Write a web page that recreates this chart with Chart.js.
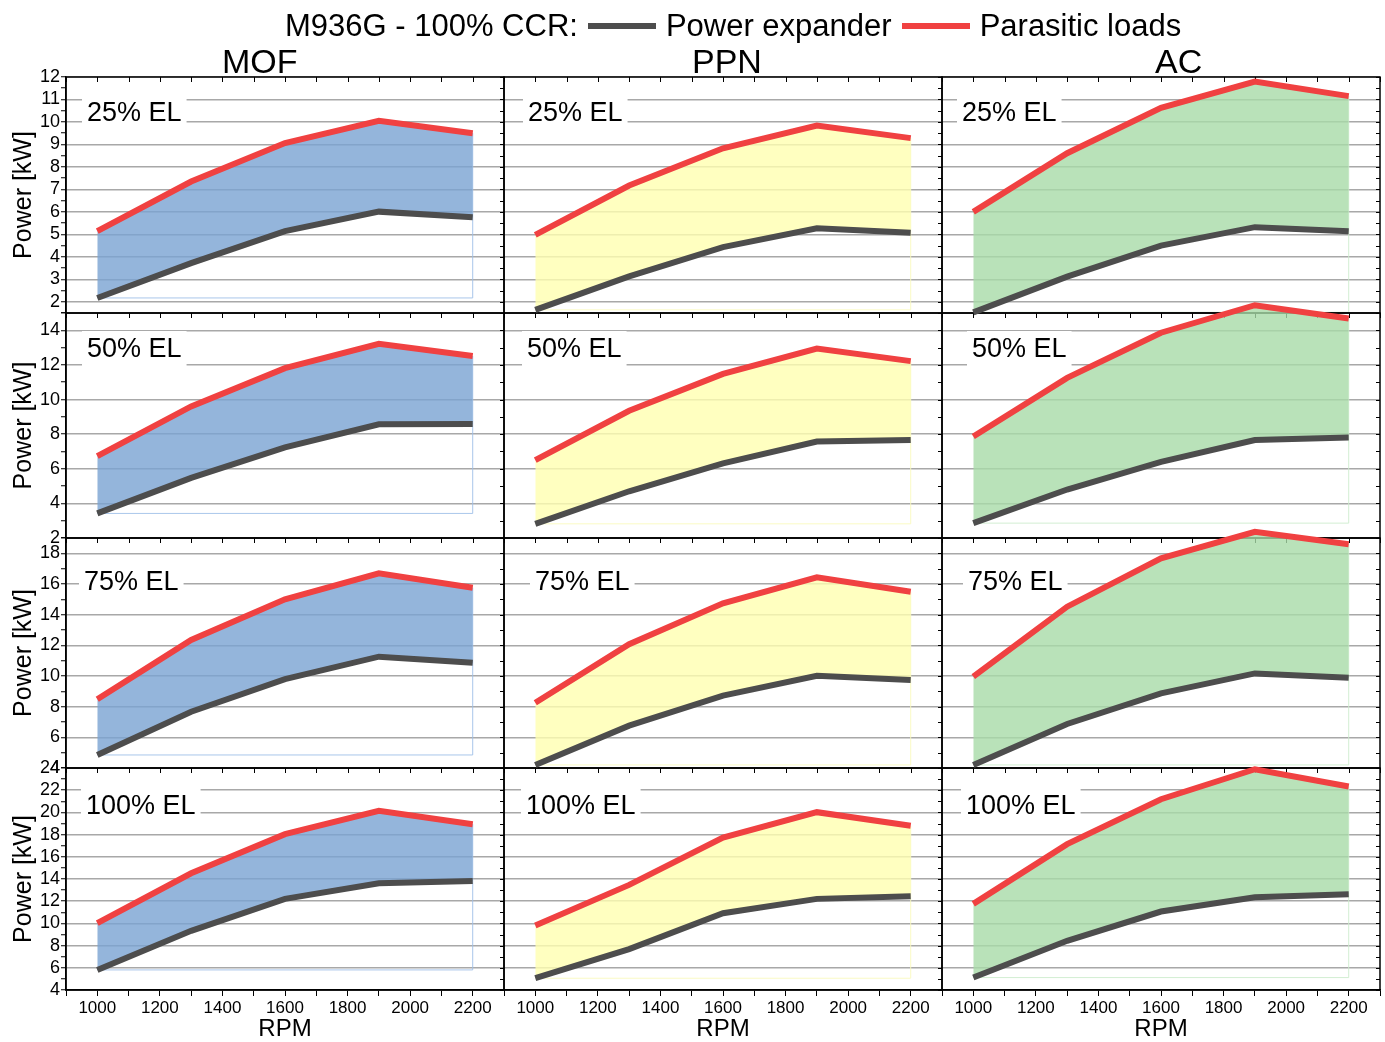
<!DOCTYPE html>
<html>
<head>
<meta charset="utf-8">
<title>M936G - 100% CCR</title>
<script src="https://cdn.jsdelivr.net/npm/chart.js@4.4.0/dist/chart.umd.min.js"></script>
<style>
  body { margin: 0; background: #fff; font-family: "Liberation Sans", Arial, sans-serif; color: #000; }
  #wrap { position: relative; width: 1385px; height: 1042px; overflow: hidden; }
  #plot { position: absolute; left: 0; top: 0; }
  .head { position: absolute; white-space: nowrap; }
  #title { left: 285px; top: 10px; font-size: 31px; line-height: 31px; display: flex; align-items: center; }
  #title .sw { display: inline-block; width: 68px; height: 6px; margin: 0 10px; }
  .col { top: 44px; font-size: 34px; line-height: 34px; }
</style>
</head>
<body>
<div id="wrap">
  <canvas id="plot" width="1385" height="1042"></canvas>
  <div class="head" id="title">
    <span>M936G - 100% CCR:</span>
    <span class="sw" style="background:#4d4d4d"></span>
    <span>Power expander</span>
    <span class="sw" style="background:#f04141"></span>
    <span>Parasitic loads</span>
  </div>
  <div class="head col" style="left:222px">MOF</div>
  <div class="head col" style="left:692px">PPN</div>
  <div class="head col" style="left:1155px">AC</div>
</div>
<script>
//-----------------Data
const rpm = [1000, 1300, 1600, 1900, 2200]
const systems = ['MOF', 'PPN', 'AC']
const loads = ['25% EL', '50% EL', '75% EL', '100% EL']

// power expander [kW], one line per engine load (25, 50, 75, 100 %)
const expander_MOF = [
  [2.17, 3.72, 5.14, 6.01, 5.76],
  [3.42, 5.47, 7.24, 8.57, 8.59],
  [4.85, 7.67, 9.80, 11.26, 10.87],
  [5.81, 9.33, 12.21, 13.62, 13.83]
]
const expander_PPN = [
  [1.64, 3.13, 4.43, 5.27, 5.07],
  [2.82, 4.70, 6.31, 7.57, 7.66],
  [4.20, 6.76, 8.72, 10.02, 9.74],
  [5.06, 7.68, 10.92, 12.21, 12.45]
]
const expander_AC = [
  [1.53, 3.12, 4.50, 5.32, 5.14],
  [2.86, 4.80, 6.40, 7.66, 7.80],
  [4.20, 6.87, 8.87, 10.17, 9.89],
  [5.12, 8.43, 11.07, 12.36, 12.63]
]
// parasitic loads [kW]
const parasitic_MOF = [
  [5.14, 7.35, 9.06, 10.05, 9.50],
  [6.73, 9.60, 11.81, 13.22, 12.51],
  [8.48, 12.35, 15.00, 16.70, 15.76],
  [10.02, 14.52, 18.04, 20.14, 18.94]
]
const parasitic_PPN = [
  [4.98, 7.17, 8.83, 9.84, 9.28],
  [6.50, 9.35, 11.48, 12.95, 12.22],
  [8.26, 12.07, 14.74, 16.43, 15.50],
  [9.81, 13.47, 17.74, 20.02, 18.79]
]
const parasitic_AC = [
  [6.00, 8.61, 10.63, 11.80, 11.15],
  [7.86, 11.25, 13.86, 15.45, 14.68],
  [9.96, 14.52, 17.67, 19.40, 18.59],
  [11.76, 17.14, 21.19, 23.89, 22.33]
]

// axis ranges per row
const yMin = [1.5, 2, 4, 4]
const yMax = [12, 15, 19, 24]
const yMinorStep = [0.5, 1, 1, 1]
const yMajorStep = [1, 2, 2, 2]
const xTickLabels = [1000, 1200, 1400, 1600, 1800, 2000, 2200]

//-----------------Style / layout
const expanderByCol = [expander_MOF, expander_PPN, expander_AC]
const parasiticByCol = [parasitic_MOF, parasitic_PPN, parasitic_AC]
const fillColors = ['rgba(121,163,210,0.8)', 'rgba(255,255,176,0.8)', 'rgba(168,219,168,0.8)']
const edgeColors = ['rgba(160,192,232,0.9)', 'rgba(250,250,190,0.9)', 'rgba(205,236,205,0.9)']
const rowWeights = [236, 225, 230, 222]
// label position inside each panel (x from left, y centre from top)
const labelX = [[21, 24, 20], [21, 23, 30], [18, 31, 26], [20, 22, 24]]
const labelY = [36, 36, 44, 38]

Chart.defaults.font.family = '"Liberation Sans", Arial, sans-serif'
Chart.defaults.color = '#000'

function isMajor(v, r) {
  const q = v / yMajorStep[r]
  return Math.abs(q - Math.round(q)) < 1e-6
}

function xAxis(c) {
  return {
    type: 'linear', position: 'bottom', stack: 'cols', stackWeight: 1,
    min: 900, max: 2300,
    afterFit: s => { s.height = 52 },
    ticks: {
      stepSize: 100, autoSkip: false, maxRotation: 0, padding: 2,
      font: { size: 17 },
      callback: v => xTickLabels.includes(v) ? String(v) : ''
    },
    grid: { drawOnChartArea: false, drawTicks: true, tickLength: 6, tickColor: '#000', tickWidth: 1 },
    border: { display: true, color: '#000', width: 1.5 },
    title: { display: true, text: 'RPM', font: { size: 24 }, padding: { top: 0, bottom: -2 } }
  }
}

function yAxis(r) {
  return {
    type: 'linear', position: 'left', stack: 'rows', stackWeight: rowWeights[r],
    min: yMin[r], max: yMax[r],
    afterFit: s => { s.width = 66 },
    ticks: {
      stepSize: yMinorStep[r], autoSkip: false, padding: 1,
      font: { size: 18 },
      callback: v => isMajor(v, r) ? String(v) : ''
    },
    grid: {
      color: ctx => (ctx.tick && isMajor(ctx.tick.value, r)) ? '#a8a8a8' : 'rgba(0,0,0,0)',
      lineWidth: 1.5, drawTicks: true, tickLength: 5, tickColor: '#000', tickWidth: 1
    },
    border: { display: true, color: '#000', width: 1.5 },
    title: { display: true, text: 'Power [kW]', font: { size: 25 }, padding: { top: 9, bottom: 0 } }
  }
}

// scales: y axes defined bottom row first so the last one ends up on top
const scales = {}
for (let c = 0; c < 3; c++) scales['x' + c] = xAxis(c)
for (let r = 3; r >= 0; r--) scales['y' + r] = yAxis(r)

const datasets = []
for (let r = 0; r < 4; r++) {
  for (let c = 0; c < 3; c++) {
    datasets.push({
      label: 'Power expander',
      data: rpm.map((x, i) => ({ x: x, y: expanderByCol[c][r][i] })),
      xAxisID: 'x' + c, yAxisID: 'y' + r,
      borderColor: '#4d4d4d', borderWidth: 6, pointRadius: 0,
      fill: false, clip: false
    })
    datasets.push({
      label: 'Parasitic loads',
      data: rpm.map((x, i) => ({ x: x, y: parasiticByCol[c][r][i] })),
      xAxisID: 'x' + c, yAxisID: 'y' + r,
      borderColor: '#f04141', borderWidth: 6, pointRadius: 0,
      backgroundColor: fillColors[c],
      fill: '-1', clip: false
    })
  }
}

//-----------------Panel frames, mirror ticks, load labels
const panels = {
  id: 'panels',
  beforeDatasetsDraw(chart) {
    const ctx = chart.ctx
    ctx.save()
    for (let r = 0; r < 4; r++) {
      const ys = chart.scales['y' + r]
      for (let c = 0; c < 3; c++) {
        const xs = chart.scales['x' + c]
        // faint outline of the filled region
        const base = ys.getPixelForValue(expanderByCol[c][r][0])
        const last = rpm.length - 1
        ctx.strokeStyle = edgeColors[c]
        ctx.lineWidth = 1
        ctx.beginPath()
        ctx.moveTo(xs.getPixelForValue(rpm[0]), base)
        ctx.lineTo(xs.getPixelForValue(rpm[last]), base)
        ctx.lineTo(xs.getPixelForValue(rpm[last]), ys.getPixelForValue(parasiticByCol[c][r][last]))
        ctx.stroke()

        // frame
        ctx.strokeStyle = '#000'
        ctx.lineWidth = 1.5
        ctx.strokeRect(xs.left, ys.top, xs.right - xs.left, ys.bottom - ys.top)

        // ticks on the top edge
        ctx.lineWidth = 1
        ctx.beginPath()
        for (let v = 900; v <= 2300; v += 100) {
          const px = Math.round(xs.getPixelForValue(v)) + 0.5
          ctx.moveTo(px, ys.top)
          ctx.lineTo(px, ys.top + 5)
        }
        // ticks on the right edge
        for (let v = yMin[r]; v <= yMax[r] + 1e-9; v += yMinorStep[r]) {
          const py = Math.round(ys.getPixelForValue(v)) + 0.5
          ctx.moveTo(xs.right, py)
          ctx.lineTo(xs.right - 4, py)
        }
        ctx.stroke()
      }
    }
    ctx.restore()
  },
  afterDatasetsDraw(chart) {
    const ctx = chart.ctx
    ctx.save()
    ctx.font = '27px "Liberation Sans", Arial, sans-serif'
    ctx.textBaseline = 'middle'
    for (let r = 0; r < 4; r++) {
      const ys = chart.scales['y' + r]
      for (let c = 0; c < 3; c++) {
        const xs = chart.scales['x' + c]
        const x = xs.left + labelX[r][c]
        const y = ys.top + labelY[r]
        const w = ctx.measureText(loads[r]).width
        ctx.fillStyle = '#fff'
        ctx.fillRect(x - 5, y - 18, w + 10, 36)
        ctx.fillStyle = '#000'
        ctx.fillText(loads[r], x, y + 1)
      }
    }
    ctx.restore()
  }
}

const Graph = new Chart(document.getElementById('plot').getContext('2d'), {
  type: 'line',
  data: { datasets: datasets },
  options: {
    responsive: false,
    animation: false,
    layout: { padding: { top: 77, right: 5, left: 0, bottom: 0 } },
    plugins: { legend: { display: false }, tooltip: { enabled: false } },
    scales: scales
  },
  plugins: [panels]
})
</script>
</body>
</html>
